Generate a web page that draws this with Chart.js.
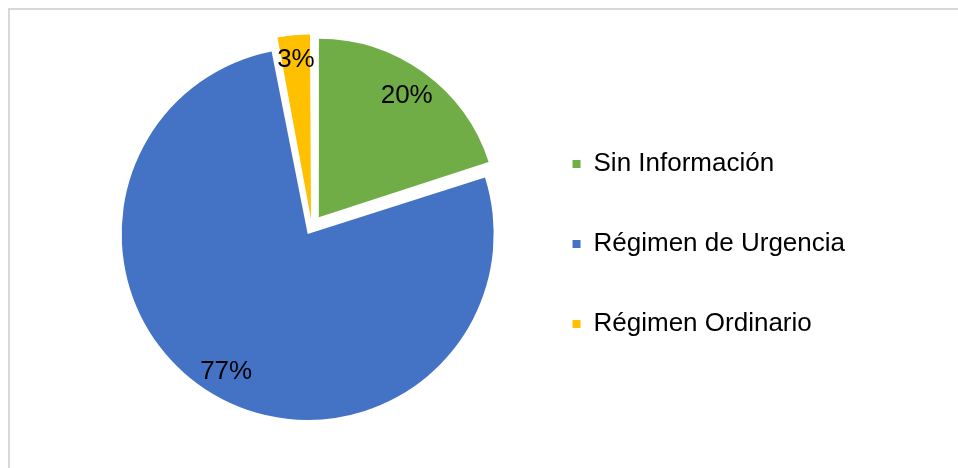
<!DOCTYPE html>
<html>
<head>
<meta charset="utf-8">
<script src="https://cdn.jsdelivr.net/npm/chart.js@4"></script>
<style>
  html, body { margin: 0; padding: 0; background: #fff; overflow: hidden; }
  body { width: 958px; height: 468px; position: relative; }
  #frame { position: absolute; left: 8px; top: 8px; width: 1200px; height: 800px; border: 2px solid #d9d9d9; }
  #chart { position: absolute; left: 0; top: 0; }
</style>
</head>
<body>
<div id="frame"></div>
<canvas id="chart" width="958" height="468"></canvas>
<script>
const categories = ['Sin Información', 'Régimen de Urgencia', 'Régimen Ordinario'];
const values = [20, 77, 3];
const colors = ['#70ad47', '#4472c4', '#ffc000'];

const FONT = '"Liberation Sans", Arial, sans-serif';
// how far out (fraction of radius) each percentage label sits
const labelRadius = [0.84, 0.9, 0.9];

// percentage labels inside each slice, like the original
const sliceLabels = {
  id: 'sliceLabels',
  afterDatasetsDraw(chart) {
    const ctx = chart.ctx;
    const meta = chart.getDatasetMeta(0);
    const total = values.reduce((a, b) => a + b, 0);
    ctx.save();
    ctx.font = '26px ' + FONT;
    ctx.fillStyle = '#000';
    ctx.textAlign = 'center';
    ctx.textBaseline = 'middle';
    meta.data.forEach((arc, i) => {
      const p = arc.getProps(['x', 'y', 'startAngle', 'endAngle', 'outerRadius'], true);
      const mid = (p.startAngle + p.endAngle) / 2;
      const d = (arc.options.offset || 0) / 4 + labelRadius[i] * p.outerRadius;
      ctx.fillText(Math.round(values[i] / total * 100) + '%', p.x + Math.cos(mid) * d, p.y + Math.sin(mid) * d);
    });
    ctx.restore();
  }
};

// legend sits a little lower than the pie centre
const nudgeLegend = {
  id: 'nudgeLegend',
  afterLayout(chart) {
    chart.legend.top += 34;
  }
};

new Chart(document.getElementById('chart'), {
  type: 'pie',
  data: {
    labels: categories,
    datasets: [{
      data: values,
      backgroundColor: colors,
      borderWidth: 0,
      offset: [48, 32, 32]
    }]
  },
  options: {
    responsive: false,
    animation: false,
    radius: 178,
    layout: { padding: { left: 105, right: 103, top: 0, bottom: 14 } },
    plugins: {
      tooltip: { enabled: false },
      legend: {
        position: 'right',
        labels: {
          font: { size: 26, family: FONT },
          color: '#000',
          boxWidth: 8,
          boxHeight: 8,
          padding: 54
        }
      }
    }
  },
  plugins: [sliceLabels, nudgeLegend]
});
</script>
</body>
</html>
